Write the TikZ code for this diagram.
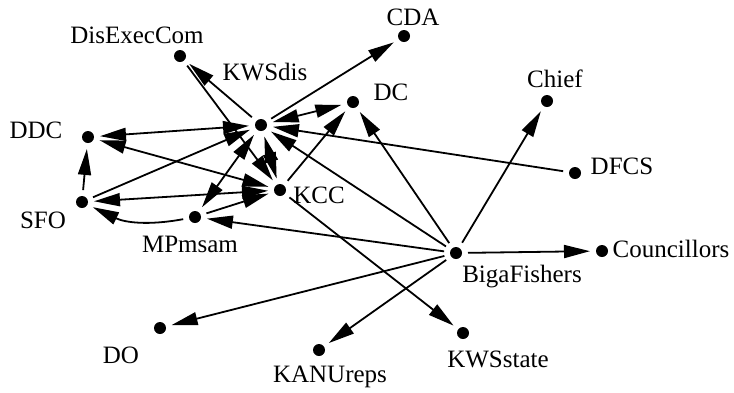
\documentclass[tikz,border=0pt]{standalone}
\usepackage{fontspec}
\setmainfont{Liberation Serif}
\usetikzlibrary{arrows.meta}

\begin{document}
\begin{tikzpicture}[x=1pt, y=-1pt, >={Triangle[length=26pt,width=13pt]}, line width=1.8pt,
  dot/.style={circle, fill, inner sep=0pt, minimum size=12pt, outer sep=6pt},
  lab/.style={anchor=base, inner sep=0pt, font=\fontsize{25}{30}\selectfont}]

  \useasboundingbox (0,0) rectangle (734,392);

  % Define coordinates for nodes
  \node[dot] (DisExecCom) at (180, 56) {};
  \node[dot] (KWSdis) at (261, 125) {};
  \node[dot] (CDA) at (404, 36) {};
  \node[dot] (DC) at (353, 102) {};
  \node[dot] (Chief) at (547, 101) {};
  \node[dot] (DDC) at (88, 137) {};
  \node[dot] (DFCS) at (575, 173) {};
  \node[dot] (SFO) at (82, 202) {};
  \node[dot] (KCC) at (280, 190) {};
  \node[dot] (MPmsam) at (195, 217) {};
  \node[dot] (BigaFishers) at (456, 253) {};
  \node[dot] (Councillors) at (602, 251) {};
  \node[dot] (DO) at (160, 328) {};
  \node[dot] (KANUreps) at (319, 350) {};
  \node[dot] (KWSstate) at (463, 333) {};

  % Labels
  \node[lab] (tDisExecCom) at (137, 43) {DisExecCom};
  \node[lab] (tKWSdis) at (265, 80) {KWSdis};
  \node[lab] (tCDA) at (413, 25) {CDA};
  \node[lab] (tDC) at (391, 100) {DC};
  \node[lab] (tChief) at (555, 87) {Chief};
  \node[lab] (tDDC) at (36, 138) {DDC};
  \node[lab] (tDFCS) at (622, 174) {DFCS};
  \node[lab] (tSFO) at (43, 228) {SFO};
  \node[lab] (tKCC) at (319, 203) {KCC};
  \node[lab] (tMPmsam) at (190, 252) {MPmsam};
  \node[lab] (tBigaFishers) at (522, 282) {BigaFishers};
  \node[lab] (tCouncillors) at (671, 257) {Councillors};
  \node[lab] (tDO) at (121, 363) {DO};
  \node[lab] (tKANUreps) at (330, 382) {KANUreps};
  \node[lab] (tKWSstate) at (498, 367) {KWSstate};

  % Draw arrows between nodes
  \draw[->] (KWSdis) -- (DisExecCom);
  \draw[->] (DisExecCom) -- (KCC);
  \draw[->] (KWSdis) -- (CDA);
  \draw[<->] (KWSdis) -- (DC);
  \draw[->] (DFCS) -- (KWSdis);
  \draw[<->] (DDC) -- (KWSdis);
  \draw[<->] (DDC) -- (KCC);
  \draw[->] (SFO) -- (DDC);
  \draw[->] (SFO) -- (KWSdis);
  \draw[<->] (SFO) -- (KCC);
  \draw[<->] (MPmsam) -- (KWSdis);
  \draw[->] (MPmsam) -- (KCC);
  \draw[->] (MPmsam) to[bend left=18] (SFO);
  \draw[<->] (KWSdis) -- (KCC);
  \draw[->] (KCC) -- (DC);
  \draw[->] (KCC) -- (KWSstate);
  \draw[->] (BigaFishers) -- (KWSdis);
  \draw[->] (BigaFishers) -- (DC);
  \draw[->] (BigaFishers) -- (Chief);
  \draw[->] (BigaFishers) -- (Councillors);
  \draw[->] (BigaFishers) -- (MPmsam);
  \draw[->] (BigaFishers) -- (DO);
  \draw[->] (BigaFishers) -- (KANUreps);
\end{tikzpicture}
\end{document}
